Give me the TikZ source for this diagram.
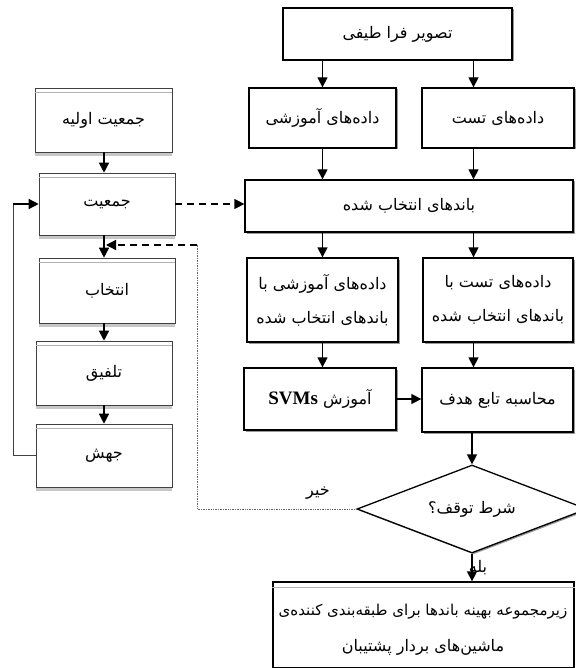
\documentclass[tikz,border=0pt]{standalone}
\usepackage{fontspec}
\newfontfamily\arabicfont[Script=Arabic]{DejaVu Sans}
\newfontfamily\latinfont{Liberation Serif}
\TeXXeTstate=1
\usetikzlibrary{arrows.meta,shapes.geometric,shadows}
\newcommand{\fatext}[1]{\arabicfont\beginR #1\endR}
\newcommand{\fasize}{\fontsize{16}{22}\selectfont}

\begin{document}
\begin{tikzpicture}[x=1pt,y=-1pt,
    rbox/.style={draw,line width=1.3pt,fill=white,
      drop shadow={shadow xshift=1.5pt,shadow yshift=-1.5pt,fill=black!40,opacity=1},
      inner sep=0pt,align=center,font=\fasize},
    lbox/.style={draw=black!75,line width=0.6pt,fill=white,inner sep=0pt,
      minimum width=136pt,font=\fasize},
    arr/.style={line width=1.3pt,-{Triangle[length=10pt,width=10pt]}},
    darr/.style={arr,dash pattern=on 7pt off 5pt}]
  \useasboundingbox (0,0) rectangle (575,668);

  % right column
  \node[rbox,minimum width=229pt,minimum height=52pt] (img) at (397.5,34) {\fatext{تصویر فرا طیفی}};
  \node[rbox,minimum width=147pt,minimum height=60pt] (train) at (322.5,118) {\fatext{داده‌های آموزشی}};
  \node[rbox,minimum width=152pt,minimum height=60pt] (test) at (498,118) {\fatext{داده‌های تست}};
  \node[rbox,minimum width=328pt,minimum height=52pt] (bands) at (409,206) {\fatext{باندهای انتخاب شده}};
  \node[rbox,minimum width=151pt,minimum height=84pt] (trainsel) at (322.5,300)
    {\fatext{داده‌های آموزشی با}\\[12pt]\fatext{باندهای انتخاب شده}};
  \node[rbox,minimum width=150pt,minimum height=84pt] (testsel) at (498,300)
    {\fatext{داده‌های تست با}\\[12pt]\fatext{باندهای انتخاب شده}};
  \node[rbox,minimum width=152pt,minimum height=62pt] (svm) at (320,399)
    {\arabicfont\beginR آموزش \beginL{\latinfont\bfseries\fontsize{19}{20}\selectfont SVMs}\endL\endR};
  \node[rbox,minimum width=151pt,minimum height=64pt] (obj) at (497.5,400) {\fatext{محاسبه تابع هدف}};
  \node[rbox,diamond,aspect=2.6,minimum width=230pt,minimum height=88pt] (stop) at (472,509) {\fatext{شرط توقف؟}};
  \node[draw,line width=1.3pt,fill=white,minimum width=301pt,minimum height=86pt] (final) at (423.5,625) {};
  \draw[black!30,line width=1pt] ([yshift=-6pt]final.north west) -- ([yshift=-6pt]final.north east);
  \node[font=\fontsize{15}{20}\selectfont] (fin1) at (423,612) {\fatext{زیرمجموعه بهینه باندها برای طبقه‌بندی کننده‌ی}};
  \node[font=\fasize] (fin2) at (423,647) {\fatext{ماشین‌های بردار پشتیبان}};

  % left column
  \node[lbox,minimum width=137pt,minimum height=64pt] (init) at (103.5,120) {\fatext{جمعیت اولیه}};
  \node[lbox,minimum height=62pt] (pop) at (107,204) {\fatext{جمعیت}};
  \node[lbox,minimum height=65pt] (sel) at (107,290.5) {\fatext{انتخاب}};
  \node[lbox,minimum height=64pt] (cross) at (104,373) {\fatext{تلفیق}};
  \node[lbox,minimum height=63pt] (mut) at (104,455.5) {\fatext{جهش}};
  \foreach \n in {init,pop,sel,cross,mut}{
    \draw[black!30,line width=0.8pt] ([yshift=-5pt]\n.north west) -- ([yshift=-5pt]\n.north east);
    \draw[black!22,line width=2.5pt] ([yshift=-2pt]\n.south west) -- ([yshift=-2pt]\n.south east);
  }

  \coordinate (rc) at (473.5,0);
  \coordinate (lc) at (104,0);
  \coordinate (fb) at (13,0);
  \coordinate (back) at (197,245);
  \coordinate (hit) at (106,245);

  \draw[arr] (img.south -| train.north) -- (train.north);
  \draw[arr] (img.south -| rc) -- (test.north -| rc);
  \draw[arr] (train.south) -- (bands.north -| train.south);
  \draw[arr] (test.south -| rc) -- (bands.north -| rc);
  \draw[arr] (bands.south -| trainsel.north) -- (trainsel.north);
  \draw[arr] (bands.south -| rc) -- (testsel.north -| rc);
  \draw[arr] (trainsel.south) -- (svm.north -| trainsel.south);
  \draw[arr] (testsel.south -| rc) -- (obj.north -| rc);
  \draw[arr] (svm.east) -- (svm.east -| obj.west);
  \draw[arr] (obj.south -| stop.north) -- (stop.north);
  \draw[arr] (stop.south) -- (final.north -| stop.south);
  \node[font=\fasize] (yes) at (478,568) {\fatext{بله}};

  \draw[arr] (init.south -| lc) -- (pop.north -| lc);
  \draw[arr] (pop.south -| lc) -- (sel.north -| lc);
  \draw[arr] (sel.south -| lc) -- (cross.north -| lc);
  \draw[arr] (cross.south -| lc) -- (mut.north -| lc);
  \draw[black!75,line width=0.8pt] (mut.west) -| (pop.west -| fb);
  \draw[arr] (pop.west -| fb) -- (pop.west);
  \draw[darr] (pop.east) -- (pop.east -| bands.west);

  \draw[black!60,densely dotted,line width=0.7pt] (stop.west) -| (back);
  \draw[darr] (back) -- (hit);
  \node[font=\fasize] (no) at (318,493) {\fatext{خیر}};
\end{tikzpicture}
\end{document}
